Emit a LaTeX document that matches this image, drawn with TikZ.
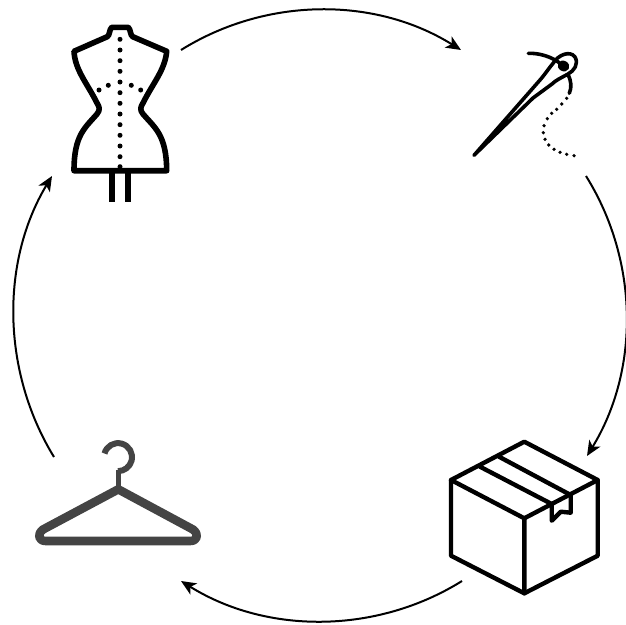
\documentclass[tikz,border=0pt]{standalone}
\usetikzlibrary{arrows.meta}
\begin{document}
\begin{tikzpicture}[x=1pt,y=-1pt,
  conn/.style={line width=2pt,-{Stealth[length=15pt,width=13pt,inset=4pt]},line cap=butt},
  ink/.style={line width=#1,line join=round,line cap=round,black},
  hang/.style={line width=#1,line join=round,line cap=butt,draw=hangercol}]
\definecolor{hangercol}{HTML}{444444}
\useasboundingbox (0,0) rectangle (626,624);
\coordinate (a1) at (181,50); \coordinate (a2) at (461,50);
\coordinate (b1) at (586,176); \coordinate (b2) at (587,456);
\coordinate (c1) at (462,581); \coordinate (c2) at (181,581);
\coordinate (d1) at (54,457); \coordinate (d2) at (52,176);
\draw[conn] (a1) .. controls (266.6,-3.4) and (375.4,-3.4) .. (a2);
\draw[conn] (b1) .. controls (639.4,261.6) and (639.4,370.4) .. (b2);
\draw[conn] (c1) .. controls (376.4,634.4) and (266.6,634.4) .. (c2);
\draw[conn] (d1) .. controls (1.6,371.4) and (0.4,261.6) .. (d2);
% dress form
\draw[ink=5.6pt] (74,51.3) -- (107.3,36.7) .. controls (110,35) and (109,30) .. (111.7,27.3) -- (128.3,27.3) .. controls (131,30) and (130,35) .. (132.7,36.7) -- (166.7,51.3)
  .. controls (165,70) and (153,83) .. (143,103) .. controls (140,108) and (140,110) .. (143,114)
  .. controls (155,128) and (166.5,135) .. (166.7,170.7) -- (74,170.7)
  .. controls (74,135) and (85,128) .. (97,114) .. controls (100,110) and (100,108) .. (97,103)
  .. controls (87,83) and (75,70) .. (74,51.3) -- cycle;
\draw[line width=5.3pt] (112,170) -- (112,202) (128,170) -- (128,202);
\foreach \p in {39.3,50,60.7,71.3,82,92.7,103.3,114,124.7,135.3,146,156.7,166.7}
  \fill (120,\p) circle (2.5pt);
\foreach \x/\y in {99/90,108.3/85.3,131.3/85.3,140.7/90}
  \fill (\x,\y) circle (2.5pt);
% needle
\draw[ink=3.6pt] (474,155.3) -- (540,80) .. controls (546,73) and (549,68) .. (553.3,63) .. controls (558,55) and (570,50) .. (575,57)
  .. controls (579,64) and (574,71) .. (568,74) .. controls (561,78) and (556,80) .. (552,84) -- (533,98) -- cycle;
\fill[rotate around={-30:(563.5,66)}] (563.5,66) ellipse (6pt and 5.2pt);
\draw[ink=3.6pt] (528.3,53.3) .. controls (540,53) and (552,57) .. (560,63.3);
\draw[ink=3.6pt] (568.3,75) .. controls (571,81) and (572,87) .. (569.3,93.3);
\foreach \x/\y in {566.7/98.3,561.7/104,556.7/109.3,551.7/113.3,547.3/118.7,544/125.7,543.3/132.7,545/139.3,548.7/145,554/149.3,560/152.3,566.7/154.3,574/155.7}
  \fill (\x,\y) circle (1.8pt);
% box
\draw[ink=4.4pt] (524.3,441.7) -- (597.7,480) -- (597.7,555.7) -- (524.3,593.3) -- (451,555.7) -- (451,480) -- cycle;
\draw[ink=4.4pt] (451,480) -- (524.3,518.3) -- (597.7,480) (524.3,518.3) -- (524.3,593.3);
\draw[ink=4.4pt] (480,466.7) -- (551.7,504) -- (551.7,520.7) -- (560.7,511.7) -- (570.7,512.7) -- (570.7,495) -- (499,456.7);
% hanger
\draw[hang=6pt] (104.5,453.5) arc[start angle=195,end angle=450,radius=14];
\draw[hang=5.5pt] (118.3,470) -- (118.3,489);
\draw[hang=8.6pt] (118.3,489.3) -- (193,529.5) .. controls (199,534) and (198,541) .. (190,541) -- (46,541) .. controls (38,541) and (37,534) .. (43,529.5) -- cycle;
\end{tikzpicture}
\end{document}
